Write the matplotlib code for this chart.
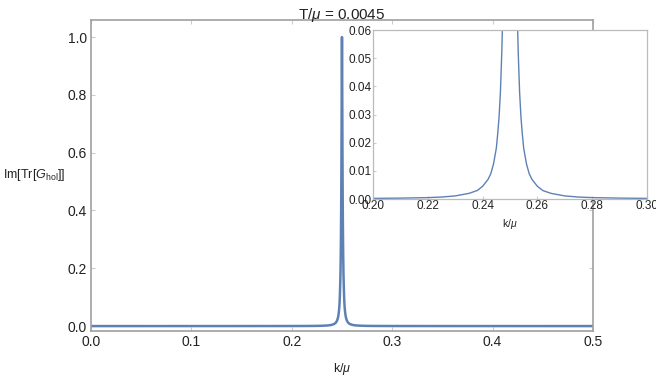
import numpy as np
import matplotlib
matplotlib.use("Agg")
import matplotlib.pyplot as plt

# values: Im[Tr[G_hol]] against k/mu, sharp peak at k = 0.25
k_left = [0.0, 0.05, 0.10, 0.15, 0.18, 0.20, 0.21, 0.22, 0.225, 0.23, 0.235,
          0.238, 0.24, 0.242, 0.243, 0.244, 0.245, 0.2455, 0.246, 0.2465,
          0.247, 0.2473, 0.2476, 0.2479, 0.2482, 0.2485, 0.2488, 0.249,
          0.2492, 0.2494, 0.2496, 0.2498, 0.2499]
im_left = [0.0, 0.00002, 0.00005, 0.0001, 0.00016, 0.00022, 0.00032, 0.0005,
           0.0007, 0.0011, 0.0020, 0.0030, 0.0045, 0.0070, 0.0090, 0.0125,
           0.018, 0.023, 0.029, 0.038, 0.052, 0.064, 0.080, 0.105, 0.14,
           0.18, 0.25, 0.32, 0.40, 0.52, 0.68, 0.88, 0.97]
k_peak = 0.25
im_peak = 1.0

k = np.array(k_left + [k_peak] + [2 * k_peak - v for v in k_left[::-1]])
im = np.array(im_left + [im_peak] + im_left[::-1])

title = r"T/$\mu$ = 0.0045"
xlabel = r"k/$\mu$"
ylabel = r"Im[Tr[$G_{\mathrm{hol}}$]]"

plt.rcParams['font.family'] = ['Liberation Sans', 'DejaVu Sans']
plt.rcParams['mathtext.fontset'] = 'custom'
plt.rcParams['mathtext.rm'] = 'Liberation Sans'
plt.rcParams['mathtext.it'] = 'Liberation Sans:italic'

line_color = '#5e81b5'
frame_color = '#a0a0a0'
text_color = '#222222'

fig = plt.figure(figsize=(6.56, 3.76), dpi=100)

# main plot
ax = fig.add_axes([0.1387, 0.1197, 0.7652, 0.8271])
ax.plot(k, im, color=line_color, lw=1.8)
ax.set_xlim(0, 0.5)
ax.set_ylim(-0.017, 1.059)
ax.set_xticks([0.0, 0.1, 0.2, 0.3, 0.4, 0.5])
ax.set_yticks([0.0, 0.2, 0.4, 0.6, 0.8, 1.0])
ax.set_xticklabels(['0.0', '0.1', '0.2', '0.3', '0.4', '0.5'])
ax.set_yticklabels(['0.0', '0.2', '0.4', '0.6', '0.8', '1.0'])
ax.tick_params(direction='in', length=3, color='#cccccc', labelsize=10,
               labelcolor=text_color, top=True, right=True, pad=3)
for s in ax.spines.values():
    s.set_color(frame_color)
    s.set_linewidth(1.2)
ax.set_title(title, fontsize=11, color=text_color, pad=1)
ax.set_xlabel(xlabel, fontsize=9, color=text_color)
ax.xaxis.set_label_coords(0.5, -0.095)
ax.set_ylabel(ylabel, fontsize=9, color=text_color, rotation=0,
              ha='right', va='center')
ax.yaxis.set_label_coords(-0.05, 0.5)

# inset zoomed on the peak
axin = fig.add_axes([0.5686, 0.4707, 0.4177, 0.4495])
axin.plot(k, im, color=line_color, lw=1.0)
axin.set_xlim(0.20, 0.30)
axin.set_ylim(0.0, 0.06)
axin.set_xticks([0.20, 0.22, 0.24, 0.26, 0.28, 0.30])
axin.set_yticks([0.0, 0.01, 0.02, 0.03, 0.04, 0.05, 0.06])
axin.set_xticklabels(['0.20', '0.22', '0.24', '0.26', '0.28', '0.30'])
axin.set_yticklabels(['0.00', '0.01', '0.02', '0.03', '0.04', '0.05', '0.06'])
axin.tick_params(direction='in', length=2, color='#cccccc', labelsize=8.5,
                 labelcolor=text_color, pad=1)
for s in axin.spines.values():
    s.set_color('#bbbbbb')
    s.set_linewidth(0.9)
axin.set_xlabel(xlabel, fontsize=7.5, color=text_color, labelpad=3)

fig.savefig('out.png', dpi=100)
